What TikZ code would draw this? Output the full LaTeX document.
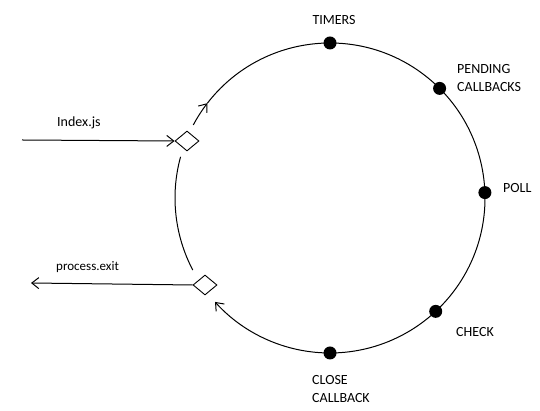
\documentclass[tikz,border=0pt]{standalone}
\usepackage{fontspec}
\setmainfont{Carlito}
\usetikzlibrary{arrows.meta,shapes.geometric,calc}
\begin{document}
\begin{tikzpicture}[x=1pt,y=1pt,
  ring/.style={line width=1pt},
  flow/.style={line width=1pt,-{Straight Barb[length=7pt,width=11pt,line width=1pt]}},
  phase/.style={circle,fill=black,inner sep=0pt,minimum size=13pt},
  gate/.style={diamond,draw,line width=0.9pt,inner sep=0pt,minimum width=24pt,minimum height=20pt},
  lbl/.style={inner sep=0pt,font=\fontsize{14}{18.5}\selectfont,align=left}]
\useasboundingbox (0,0) rectangle (540,411);
\coordinate (c) at (330,213);
% ring
\draw[flow] ([shift={(151.9:155)}]c) arc[start angle=151.9,end angle=142.3,radius=155];
\draw[flow] ([shift={(142.3:155)}]c) arc[start angle=142.3,end angle=-137.9,radius=155];
\draw[ring] ([shift={(164.6:155)}]c) arc[start angle=164.6,end angle=207.7,radius=155];
% phases
\node[phase] (timers) at ([shift={(90:155)}]c) {};
\node[phase] (pending) at ([shift={(45:155)}]c) {};
\node[phase] (poll) at ([shift={(2:155)}]c) {};
\node[phase] (check) at ([shift={(-47:155)}]c) {};
\node[phase] (close) at ([shift={(-90:155)}]c) {};
% gates
\node[gate] (din) at (187,270) {};
\node[gate] (dout) at (205,126) {};
% labels
\node[lbl,anchor=base] (tl) at (334,386) {TIMERS};
\node[lbl,anchor=base west] (pl) at (457,319) {PENDING\\CALLBACKS};
\node[lbl,anchor=base west] (pol) at (503,218) {POLL};
\node[lbl,anchor=base west] (cl) at (456,74) {CHECK};
\node[lbl,anchor=base west] (col) at (312,8) {CLOSE\\CALLBACK};
\node[lbl,anchor=base west] (il) at (57,284) {Index.js};
\node[lbl,anchor=base west,font=\fontsize{13}{16}\selectfont] (el) at (56,140) {process.exit};
% connectors
\coordinate (src) at (22,271);
\coordinate (dst) at (31,128);
\draw[flow] (src) -- (din.west);
\draw[flow] (dout.west) -- (dst);
\end{tikzpicture}
\end{document}
